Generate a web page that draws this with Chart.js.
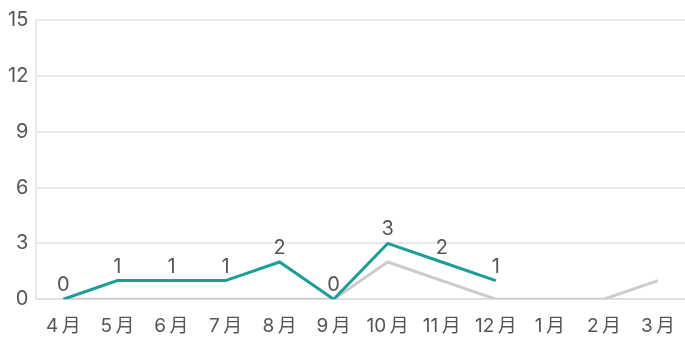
<!DOCTYPE html>
<html>
<head>
<meta charset="utf-8">
<script src="https://cdn.jsdelivr.net/npm/chart.js@4"></script>
<style>
  body { margin: 0; background: #fff; }
  #wrap { width: 685px; height: 352px; }
</style>
</head>
<body>
<div id="wrap"><canvas id="chart"></canvas></div>
<script>
const months = ["4月", "5月", "6月", "7月", "8月", "9月", "10月", "11月", "12月", "1月", "2月", "3月"];
const thisYear = [0, 1, 1, 1, 2, 0, 3, 2, 1, null, null, null];
const lastYear = [0, 0, 0, 0, 0, 0, 2, 1, 0, 0, 0, 1];
const yTicks = [0, 3, 6, 9, 12, 15];

const FONT = "Inter, 'Noto Sans CJK JP', sans-serif";

// draws the value above each point of the first dataset
const valueLabels = {
    id: "valueLabels",
    afterDatasetsDraw: function(chart) {
        const ctx = chart.ctx;
        const meta = chart.getDatasetMeta(0);
        ctx.save();
        ctx.font = "20px " + FONT;
        ctx.fillStyle = "#555";
        ctx.textAlign = "center";
        ctx.textBaseline = "bottom";
        meta.data.forEach((pt, i) => {
            const v = thisYear[i];
            if (v === null || v === undefined) return;
            ctx.fillText(String(v), pt.x, pt.y - 4);
        });
        ctx.restore();
    }
};

new Chart(document.getElementById("chart"), {
    type: "line",
    data: {
        labels: months,
        datasets: [{
            data: thisYear,
            borderColor: "#1a9e96",
            borderWidth: 3,
            pointRadius: 0,
            tension: 0,
            spanGaps: false
        }, {
            data: lastYear,
            borderColor: "#cccccc",
            borderWidth: 3,
            pointRadius: 0,
            tension: 0
        }]
    },
    options: {
        responsive: true,
        maintainAspectRatio: false,
        animation: false,
        layout: { padding: { top: 20, right: 0, left: 0, bottom: 6 } },
        plugins: {
            legend: { display: false },
            tooltip: { enabled: false }
        },
        scales: {
            x: {
                offset: true,
                grid: { display: false },
                border: { display: true, color: "#e0e0e0", width: 2 },
                ticks: {
                    color: "#555",
                    font: { family: FONT, size: 19 },
                    padding: 8,
                    maxRotation: 0,
                    autoSkip: false,
                    callback: function(value) {
                        return months[value].replace("月", "\u2009月");
                    }
                }
            },
            y: {
                min: 0,
                max: 15,
                afterBuildTicks: function(scale) {
                    scale.ticks = yTicks.map(v => ({ value: v }));
                },
                grid: { color: "#e8e8e8", lineWidth: 2, drawTicks: false },
                border: { display: true, color: "#e8e8e8", width: 2 },
                ticks: { color: "#555", font: { family: FONT, size: 20 }, padding: 8 }
            }
        }
    },
    plugins: [valueLabels]
});
</script>
</body>
</html>
